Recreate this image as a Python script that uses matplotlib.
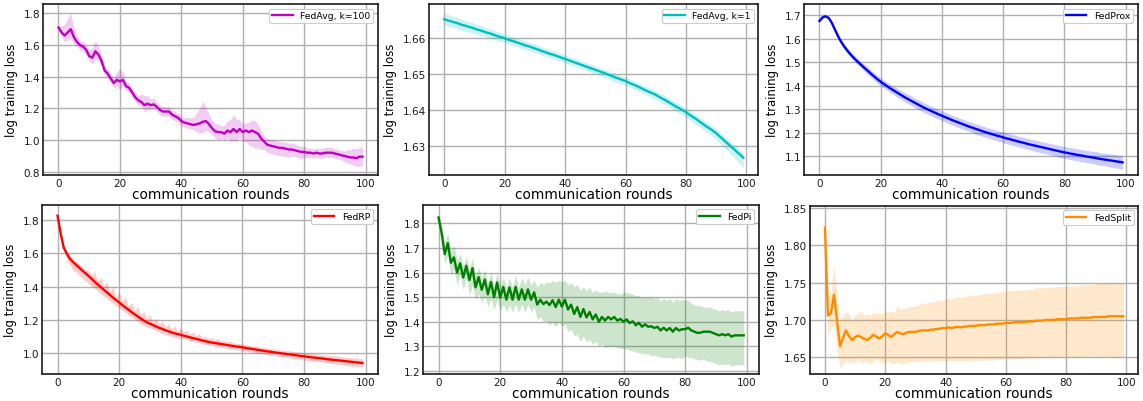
import numpy as np
import matplotlib
matplotlib.use("Agg")
import matplotlib.pyplot as plt
from matplotlib.ticker import MultipleLocator, ScalarFormatter

# ---------------- data ----------------
avg100_mean = [1.71, 1.68, 1.66, 1.68, 1.70, 1.65, 1.62, 1.60, 1.59, 1.57,
               1.53, 1.52, 1.56, 1.54, 1.50, 1.44, 1.42, 1.39, 1.36, 1.38,
               1.37, 1.38, 1.34, 1.33, 1.30, 1.27, 1.25, 1.24, 1.22, 1.23,
               1.22, 1.225, 1.21, 1.19, 1.18, 1.18, 1.18, 1.16, 1.15, 1.14,
               1.12, 1.11, 1.105, 1.10, 1.095, 1.10, 1.105, 1.115, 1.12, 1.10,
               1.075, 1.055, 1.05, 1.05, 1.04, 1.06, 1.05, 1.07, 1.05, 1.07,
               1.05, 1.06, 1.05, 1.06, 1.05, 1.04, 1.01, 0.99, 0.97, 0.965,
               0.96, 0.955, 0.95, 0.95, 0.945, 0.94, 0.94, 0.935, 0.93, 0.925,
               0.925, 0.92, 0.92, 0.915, 0.92, 0.915, 0.915, 0.92, 0.92, 0.92,
               0.915, 0.91, 0.905, 0.90, 0.895, 0.89, 0.89, 0.885, 0.895, 0.895]
avg100_above = [0.01, 0.04, 0.07, 0.09, 0.10, 0.06, 0.04, 0.03, 0.03, 0.03,
                0.04, 0.06, 0.07, 0.05, 0.04, 0.03, 0.03, 0.03, 0.03, 0.05,
                0.08, 0.05, 0.03, 0.03, 0.03, 0.03, 0.03, 0.05, 0.06, 0.05,
                0.04, 0.04, 0.03, 0.03, 0.03, 0.03, 0.03, 0.03, 0.03, 0.03,
                0.03, 0.03, 0.04, 0.04, 0.05, 0.07, 0.10, 0.13, 0.09, 0.06,
                0.05, 0.05, 0.05, 0.04, 0.05, 0.06, 0.08, 0.09, 0.08, 0.06,
                0.05, 0.05, 0.06, 0.07, 0.07, 0.06, 0.05, 0.04, 0.04, 0.04,
                0.04, 0.04, 0.04, 0.04, 0.04, 0.04, 0.04, 0.04, 0.035, 0.035,
                0.035, 0.03, 0.03, 0.03, 0.03, 0.03, 0.035, 0.035, 0.035, 0.035,
                0.03, 0.03, 0.03, 0.03, 0.04, 0.05, 0.06, 0.06, 0.06, 0.06]
avg100_below = [0.01, 0.03, 0.04, 0.05, 0.06, 0.04, 0.03, 0.03, 0.03, 0.03,
                0.03, 0.04, 0.05, 0.04, 0.03, 0.03, 0.03, 0.03, 0.03, 0.04,
                0.05, 0.04, 0.03, 0.03, 0.03, 0.03, 0.03, 0.03, 0.04, 0.04,
                0.03, 0.03, 0.03, 0.03, 0.03, 0.03, 0.03, 0.03, 0.03, 0.03,
                0.03, 0.03, 0.03, 0.03, 0.03, 0.05, 0.06, 0.07, 0.06, 0.05,
                0.04, 0.04, 0.05, 0.04, 0.04, 0.05, 0.06, 0.07, 0.06, 0.05,
                0.06, 0.07, 0.08, 0.10, 0.10, 0.09, 0.07, 0.05, 0.05, 0.05,
                0.05, 0.05, 0.05, 0.05, 0.05, 0.05, 0.04, 0.04, 0.04, 0.04,
                0.035, 0.03, 0.03, 0.03, 0.03, 0.03, 0.03, 0.03, 0.03, 0.03,
                0.03, 0.03, 0.03, 0.035, 0.04, 0.04, 0.05, 0.05, 0.06, 0.06]

avg1_mean = [1.6651, 1.6648, 1.6646, 1.6643, 1.6641, 1.6638, 1.6635, 1.6633, 1.6630, 1.6628,
             1.6625, 1.6622, 1.6620, 1.6617, 1.6614, 1.6612, 1.6609, 1.6606, 1.6603, 1.6601,
             1.6598, 1.6595, 1.6592, 1.6590, 1.6587, 1.6584, 1.6581, 1.6578, 1.6576, 1.6573,
             1.6570, 1.6567, 1.6564, 1.6561, 1.6558, 1.6555, 1.6553, 1.6550, 1.6547, 1.6544,
             1.6541, 1.6538, 1.6535, 1.6532, 1.6529, 1.6526, 1.6523, 1.6520, 1.6517, 1.6514,
             1.6511, 1.6508, 1.6505, 1.6502, 1.6499, 1.6495, 1.6492, 1.6489, 1.6486, 1.6483,
             1.6480, 1.6476, 1.6472, 1.6469, 1.6465, 1.6461, 1.6457, 1.6453, 1.6449, 1.6446,
             1.6442, 1.6437, 1.6432, 1.6428, 1.6423, 1.6418, 1.6413, 1.6408, 1.6404, 1.6399,
             1.6394, 1.6388, 1.6382, 1.6377, 1.6371, 1.6365, 1.6359, 1.6353, 1.6348, 1.6342,
             1.6336, 1.6328, 1.6321, 1.6313, 1.6306, 1.6298, 1.6291, 1.6283, 1.6276, 1.6268]
avg1_above = [0.0017, 0.0017, 0.0016, 0.0016, 0.0016, 0.0015, 0.0015, 0.0015, 0.0015, 0.0014,
              0.0014, 0.0014, 0.0014, 0.0014, 0.0013, 0.0013, 0.0013, 0.0013, 0.0013, 0.0013,
              0.0012, 0.0012, 0.0012, 0.0012, 0.0012, 0.0012, 0.0012, 0.0012, 0.0012, 0.0012,
              0.0012, 0.0012, 0.0012, 0.0011, 0.0011, 0.0011, 0.0011, 0.0011, 0.0011, 0.0011,
              0.0011, 0.0011, 0.0011, 0.0011, 0.0011, 0.0011, 0.0011, 0.0011, 0.0011, 0.0011,
              0.0011, 0.0011, 0.0011, 0.0011, 0.0011, 0.0011, 0.0011, 0.0011, 0.0011, 0.0011,
              0.0011, 0.0011, 0.0011, 0.0011, 0.0011, 0.0011, 0.0011, 0.0011, 0.0011, 0.0011,
              0.0012, 0.0012, 0.0012, 0.0012, 0.0012, 0.0012, 0.0012, 0.0012, 0.0012, 0.0012,
              0.0012, 0.0012, 0.0012, 0.0012, 0.0012, 0.0012, 0.0012, 0.0012, 0.0012, 0.0012,
              0.0012, 0.0012, 0.0012, 0.0013, 0.0013, 0.0013, 0.0013, 0.0013, 0.0013, 0.0013]
avg1_below = [0.0016, 0.0016, 0.0016, 0.0016, 0.0015, 0.0015, 0.0015, 0.0015, 0.0014, 0.0014,
              0.0014, 0.0014, 0.0014, 0.0013, 0.0013, 0.0013, 0.0013, 0.0013, 0.0013, 0.0012,
              0.0012, 0.0012, 0.0012, 0.0012, 0.0012, 0.0012, 0.0012, 0.0012, 0.0012, 0.0012,
              0.0011, 0.0011, 0.0011, 0.0011, 0.0011, 0.0011, 0.0011, 0.0011, 0.0011, 0.0011,
              0.0011, 0.0011, 0.0011, 0.0011, 0.0011, 0.0011, 0.0011, 0.0011, 0.0011, 0.0011,
              0.0011, 0.0011, 0.0011, 0.0011, 0.0011, 0.0012, 0.0012, 0.0012, 0.0012, 0.0012,
              0.0012, 0.0012, 0.0012, 0.0012, 0.0012, 0.0012, 0.0012, 0.0012, 0.0012, 0.0013,
              0.0013, 0.0013, 0.0013, 0.0013, 0.0013, 0.0013, 0.0013, 0.0014, 0.0014, 0.0014,
              0.0014, 0.0014, 0.0015, 0.0015, 0.0015, 0.0015, 0.0016, 0.0016, 0.0016, 0.0017,
              0.0017, 0.0018, 0.0019, 0.0020, 0.0021, 0.0022, 0.0023, 0.0024, 0.0026, 0.0027]

prox_mean = [1.675, 1.690, 1.695, 1.688, 1.668, 1.640, 1.612, 1.588, 1.568, 1.551,
             1.535, 1.521, 1.508, 1.496, 1.484, 1.472, 1.461, 1.449, 1.438, 1.427,
             1.417, 1.408, 1.399, 1.390, 1.382, 1.374, 1.366, 1.358, 1.350, 1.343,
             1.336, 1.329, 1.322, 1.315, 1.308, 1.302, 1.296, 1.290, 1.284, 1.278,
             1.273, 1.267, 1.262, 1.256, 1.251, 1.246, 1.241, 1.236, 1.231, 1.226,
             1.222, 1.217, 1.213, 1.208, 1.204, 1.200, 1.196, 1.192, 1.188, 1.185,
             1.181, 1.177, 1.174, 1.170, 1.167, 1.163, 1.160, 1.157, 1.153, 1.150,
             1.147, 1.144, 1.141, 1.138, 1.135, 1.132, 1.129, 1.126, 1.123, 1.120,
             1.117, 1.115, 1.112, 1.110, 1.107, 1.105, 1.103, 1.100, 1.098, 1.096,
             1.094, 1.091, 1.089, 1.087, 1.085, 1.083, 1.081, 1.079, 1.077, 1.075]
prox_spread = [0.004, 0.004, 0.005, 0.006, 0.007, 0.008, 0.009, 0.010, 0.011, 0.012,
               0.012, 0.013, 0.013, 0.014, 0.014, 0.015, 0.015, 0.016, 0.016, 0.017,
               0.017, 0.017, 0.018, 0.018, 0.018, 0.019, 0.019, 0.019, 0.020, 0.020,
               0.020, 0.020, 0.020, 0.021, 0.021, 0.021, 0.021, 0.021, 0.021, 0.021,
               0.021, 0.021, 0.021, 0.021, 0.021, 0.021, 0.021, 0.021, 0.021, 0.021,
               0.022, 0.022, 0.022, 0.022, 0.022, 0.022, 0.022, 0.022, 0.022, 0.022,
               0.023, 0.023, 0.023, 0.023, 0.023, 0.023, 0.023, 0.023, 0.023, 0.023,
               0.024, 0.024, 0.024, 0.024, 0.024, 0.024, 0.024, 0.024, 0.025, 0.025,
               0.025, 0.025, 0.025, 0.026, 0.026, 0.026, 0.026, 0.026, 0.026, 0.026,
               0.027, 0.027, 0.027, 0.027, 0.027, 0.028, 0.028, 0.028, 0.028, 0.028]

rp_mean = [1.826, 1.720, 1.635, 1.598, 1.568, 1.548, 1.532, 1.515, 1.498, 1.482,
           1.465, 1.448, 1.431, 1.414, 1.398, 1.382, 1.366, 1.350, 1.335, 1.320,
           1.305, 1.290, 1.276, 1.262, 1.248, 1.235, 1.222, 1.209, 1.197, 1.186,
           1.178, 1.170, 1.161, 1.153, 1.146, 1.139, 1.132, 1.126, 1.120, 1.116,
           1.111, 1.106, 1.101, 1.096, 1.091, 1.087, 1.082, 1.077, 1.073, 1.069,
           1.065, 1.062, 1.059, 1.056, 1.053, 1.050, 1.047, 1.044, 1.041, 1.039,
           1.036, 1.033, 1.030, 1.027, 1.024, 1.021, 1.018, 1.015, 1.012, 1.010,
           1.007, 1.004, 1.002, 0.999, 0.997, 0.994, 0.992, 0.989, 0.987, 0.984,
           0.982, 0.980, 0.977, 0.975, 0.973, 0.971, 0.969, 0.966, 0.964, 0.962,
           0.960, 0.958, 0.956, 0.954, 0.952, 0.950, 0.948, 0.946, 0.944, 0.942]
rp_above = [0.00, 0.01, 0.01, 0.015, 0.02, 0.02, 0.02, 0.02, 0.025, 0.02,
            0.035, 0.02, 0.06, 0.02, 0.06, 0.02, 0.065, 0.02, 0.065, 0.02,
            0.065, 0.02, 0.065, 0.02, 0.06, 0.02, 0.06, 0.02, 0.055, 0.02,
            0.055, 0.02, 0.05, 0.02, 0.05, 0.02, 0.045, 0.02, 0.045, 0.02,
            0.04, 0.02, 0.04, 0.02, 0.035, 0.02, 0.035, 0.02, 0.03, 0.02,
            0.03, 0.02, 0.03, 0.02, 0.025, 0.02, 0.025, 0.02, 0.02, 0.02,
            0.02, 0.02, 0.02, 0.02, 0.02, 0.02, 0.02, 0.02, 0.02, 0.02,
            0.02, 0.02, 0.02, 0.02, 0.02, 0.022, 0.022, 0.022, 0.022, 0.022,
            0.022, 0.022, 0.022, 0.022, 0.022, 0.023, 0.023, 0.023, 0.023, 0.023,
            0.024, 0.024, 0.024, 0.024, 0.024, 0.025, 0.025, 0.025, 0.025, 0.025]
rp_below = [0.00, 0.01, 0.02, 0.03, 0.04, 0.045, 0.045, 0.045, 0.045, 0.045,
            0.045, 0.045, 0.04, 0.04, 0.04, 0.04, 0.035, 0.035, 0.035, 0.035,
            0.03, 0.03, 0.03, 0.03, 0.03, 0.03, 0.03, 0.03, 0.03, 0.03,
            0.025, 0.025, 0.025, 0.025, 0.025, 0.025, 0.025, 0.025, 0.025, 0.025,
            0.02, 0.02, 0.02, 0.02, 0.02, 0.02, 0.02, 0.02, 0.02, 0.02,
            0.02, 0.02, 0.02, 0.02, 0.02, 0.02, 0.02, 0.02, 0.02, 0.02,
            0.02, 0.02, 0.02, 0.02, 0.02, 0.02, 0.02, 0.02, 0.02, 0.02,
            0.02, 0.02, 0.02, 0.02, 0.02, 0.022, 0.022, 0.022, 0.022, 0.022,
            0.022, 0.022, 0.022, 0.022, 0.022, 0.023, 0.023, 0.023, 0.023, 0.023,
            0.024, 0.024, 0.024, 0.024, 0.024, 0.025, 0.025, 0.025, 0.025, 0.025]

pi_mean = [1.824, 1.760, 1.675, 1.720, 1.640, 1.662, 1.600, 1.638, 1.580, 1.628,
           1.570, 1.618, 1.540, 1.582, 1.530, 1.572, 1.512, 1.562, 1.500, 1.560,
           1.498, 1.542, 1.490, 1.540, 1.490, 1.542, 1.490, 1.532, 1.490, 1.532,
           1.490, 1.520, 1.470, 1.490, 1.472, 1.482, 1.468, 1.488, 1.460, 1.490,
           1.462, 1.490, 1.450, 1.470, 1.432, 1.460, 1.420, 1.452, 1.418, 1.440,
           1.410, 1.430, 1.400, 1.420, 1.405, 1.420, 1.410, 1.420, 1.405, 1.412,
           1.400, 1.410, 1.395, 1.402, 1.386, 1.396, 1.380, 1.390, 1.380, 1.382,
           1.375, 1.380, 1.365, 1.376, 1.365, 1.375, 1.360, 1.375, 1.365, 1.370,
           1.370, 1.376, 1.365, 1.360, 1.355, 1.356, 1.360, 1.360, 1.360, 1.355,
           1.350, 1.345, 1.350, 1.345, 1.350, 1.340, 1.345, 1.345, 1.345, 1.345]
pi_above = [0.00, 0.03, 0.05, 0.04, 0.05, 0.05, 0.05, 0.04, 0.05, 0.04,
            0.05, 0.04, 0.05, 0.04, 0.05, 0.04, 0.05, 0.04, 0.05, 0.04,
            0.05, 0.04, 0.05, 0.04, 0.05, 0.05, 0.05, 0.05, 0.06, 0.05,
            0.06, 0.05, 0.07, 0.07, 0.08, 0.08, 0.09, 0.08, 0.10, 0.08,
            0.10, 0.08, 0.10, 0.09, 0.11, 0.09, 0.11, 0.09, 0.11, 0.10,
            0.11, 0.10, 0.12, 0.10, 0.12, 0.10, 0.11, 0.10, 0.11, 0.10,
            0.12, 0.11, 0.12, 0.11, 0.12, 0.11, 0.12, 0.11, 0.12, 0.12,
            0.12, 0.12, 0.12, 0.12, 0.12, 0.12, 0.12, 0.12, 0.12, 0.12,
            0.12, 0.11, 0.11, 0.11, 0.11, 0.11, 0.10, 0.10, 0.10, 0.10,
            0.10, 0.10, 0.10, 0.10, 0.10, 0.10, 0.10, 0.10, 0.10, 0.10]
pi_below = [0.00, 0.02, 0.04, 0.05, 0.05, 0.05, 0.05, 0.05, 0.05, 0.05,
            0.06, 0.07, 0.05, 0.07, 0.05, 0.07, 0.05, 0.07, 0.05, 0.07,
            0.05, 0.07, 0.05, 0.07, 0.05, 0.07, 0.05, 0.06, 0.05, 0.06,
            0.05, 0.06, 0.06, 0.07, 0.07, 0.08, 0.08, 0.09, 0.08, 0.09,
            0.08, 0.10, 0.09, 0.10, 0.09, 0.11, 0.10, 0.11, 0.10, 0.11,
            0.10, 0.11, 0.10, 0.11, 0.11, 0.12, 0.11, 0.12, 0.11, 0.12,
            0.11, 0.12, 0.11, 0.12, 0.11, 0.12, 0.11, 0.12, 0.11, 0.12,
            0.11, 0.12, 0.11, 0.12, 0.11, 0.12, 0.11, 0.12, 0.11, 0.12,
            0.11, 0.12, 0.11, 0.11, 0.11, 0.11, 0.11, 0.12, 0.12, 0.12,
            0.12, 0.12, 0.12, 0.12, 0.12, 0.12, 0.12, 0.12, 0.12, 0.12]

split_mean = [1.824, 1.706, 1.709, 1.734, 1.700, 1.665, 1.676, 1.686, 1.678, 1.673,
              1.677, 1.679, 1.677, 1.675, 1.673, 1.676, 1.680, 1.678, 1.675, 1.678,
              1.682, 1.680, 1.677, 1.681, 1.684, 1.682, 1.681, 1.683, 1.684, 1.684,
              1.684, 1.685, 1.686, 1.686, 1.686, 1.687, 1.687, 1.688, 1.688, 1.689,
              1.689, 1.690, 1.689, 1.690, 1.691, 1.690, 1.691, 1.691, 1.692, 1.692,
              1.692, 1.693, 1.693, 1.693, 1.694, 1.694, 1.694, 1.695, 1.695, 1.695,
              1.696, 1.696, 1.696, 1.697, 1.697, 1.697, 1.697, 1.698, 1.698, 1.698,
              1.699, 1.699, 1.699, 1.700, 1.700, 1.700, 1.700, 1.701, 1.701, 1.701,
              1.701, 1.702, 1.702, 1.702, 1.702, 1.703, 1.703, 1.703, 1.703, 1.704,
              1.704, 1.704, 1.704, 1.704, 1.705, 1.705, 1.705, 1.705, 1.705, 1.705]
split_above = [0.020, 0.025, 0.030, 0.040, 0.035, 0.035, 0.030, 0.025, 0.030, 0.025,
               0.030, 0.030, 0.035, 0.030, 0.035, 0.030, 0.030, 0.030, 0.035, 0.030,
               0.030, 0.030, 0.035, 0.030, 0.035, 0.032, 0.035, 0.033, 0.035, 0.034,
               0.035, 0.035, 0.036, 0.036, 0.037, 0.037, 0.037, 0.038, 0.038, 0.038,
               0.039, 0.039, 0.039, 0.040, 0.040, 0.040, 0.040, 0.041, 0.041, 0.041,
               0.041, 0.041, 0.042, 0.042, 0.042, 0.042, 0.042, 0.042, 0.043, 0.043,
               0.043, 0.043, 0.043, 0.043, 0.043, 0.043, 0.043, 0.043, 0.043, 0.043,
               0.044, 0.044, 0.044, 0.044, 0.044, 0.044, 0.044, 0.044, 0.044, 0.044,
               0.044, 0.044, 0.044, 0.044, 0.044, 0.044, 0.044, 0.044, 0.044, 0.044,
               0.045, 0.045, 0.045, 0.045, 0.045, 0.045, 0.045, 0.045, 0.045, 0.045]
split_below = [0.010, 0.028, 0.020, 0.040, 0.040, 0.030, 0.035, 0.040, 0.035, 0.030,
               0.035, 0.030, 0.035, 0.030, 0.030, 0.035, 0.035, 0.030, 0.030, 0.035,
               0.040, 0.035, 0.035, 0.040, 0.040, 0.040, 0.040, 0.040, 0.040, 0.040,
               0.040, 0.041, 0.041, 0.041, 0.042, 0.042, 0.042, 0.043, 0.043, 0.043,
               0.044, 0.044, 0.044, 0.045, 0.045, 0.045, 0.045, 0.046, 0.046, 0.046,
               0.047, 0.047, 0.047, 0.047, 0.047, 0.048, 0.048, 0.048, 0.048, 0.048,
               0.049, 0.049, 0.049, 0.049, 0.049, 0.049, 0.049, 0.049, 0.049, 0.049,
               0.050, 0.050, 0.050, 0.050, 0.050, 0.050, 0.050, 0.050, 0.050, 0.050,
               0.051, 0.051, 0.052, 0.052, 0.052, 0.052, 0.052, 0.052, 0.052, 0.052,
               0.053, 0.053, 0.054, 0.054, 0.054, 0.054, 0.055, 0.055, 0.055, 0.055]

labels = ["FedAvg, k=100", "FedAvg, k=1", "FedProx", "FedRP", "FedPi", "FedSplit"]
colors = ["m", "c", "blue", "red", "green", "darkorange"]

# ---------------- style ----------------
plt.rcParams.update({
    "font.family": "DejaVu Sans",
    "axes.edgecolor": "#1a1a1a",
    "axes.linewidth": 1.2,
    "grid.color": "#b0b0b0",
    "grid.linewidth": 1.0,
})

W, H = 1143, 402
fig = plt.figure(figsize=(W / 100, H / 100), dpi=100)

# axes boxes in pixels: (left, right, top, bottom)
boxes = [(43.3, 377.7, 5.0, 175.7), (429.3, 758.3, 5.0, 175.7), (804.3, 1137.7, 5.0, 175.7),
         (42.3, 377.7, 205.7, 375.0), (423.3, 759.0, 205.7, 375.0), (810.0, 1138.3, 206.5, 375.0)]
ylims = [(0.781, 1.859), (1.6221, 1.6693), (1.0225, 1.747),
         (0.876, 1.892), (1.188, 1.876), (1.6275, 1.8536)]
ysteps = [0.2, 0.01, 0.1, 0.2, 0.1, 0.05]

series = [
    (avg100_mean, avg100_below, avg100_above),
    (avg1_mean, avg1_below, avg1_above),
    (prox_mean, prox_spread, prox_spread),
    (rp_mean, rp_below, rp_above),
    (pi_mean, pi_below, pi_above),
    (split_mean, split_below, split_above),
]

for i, ((m, lo, hi), lab, col) in enumerate(zip(series, labels, colors)):
    l, r, t, b = boxes[i]
    ax = fig.add_axes([l / W, (H - b) / H, (r - l) / W, (b - t) / H])
    m = np.array(m)
    lo = np.array(lo)
    hi = np.array(hi)
    x = np.arange(len(m))
    ax.fill_between(x, m - lo, m + hi, color=col, alpha=0.2, linewidth=0)
    ax.plot(x, m, color=col, linewidth=1.7, label=lab)
    ax.set_xlim(-4.95, 103.95)
    ax.set_ylim(*ylims[i])
    ax.xaxis.set_major_locator(MultipleLocator(20))
    ax.yaxis.set_major_locator(MultipleLocator(ysteps[i]))
    fmt = ScalarFormatter(useOffset=False)
    ax.yaxis.set_major_formatter(fmt)
    ax.grid(True)
    ax.set_axisbelow(True)
    ax.tick_params(axis="both", length=0, pad=2.2, labelsize=7.5, colors="#1a1a1a")
    ax.set_xlabel("communication rounds", fontsize=9.8, labelpad=-0.5)
    ax.set_ylabel("log training loss", fontsize=8.4, labelpad=4)
    leg = ax.legend(loc="upper right", fontsize=6.7, framealpha=1.0, fancybox=True,
                    borderpad=0.3, handlelength=2.2, borderaxespad=0.5)
    leg.get_frame().set_linewidth(0.8)

fig.savefig("out.png", dpi=100)
